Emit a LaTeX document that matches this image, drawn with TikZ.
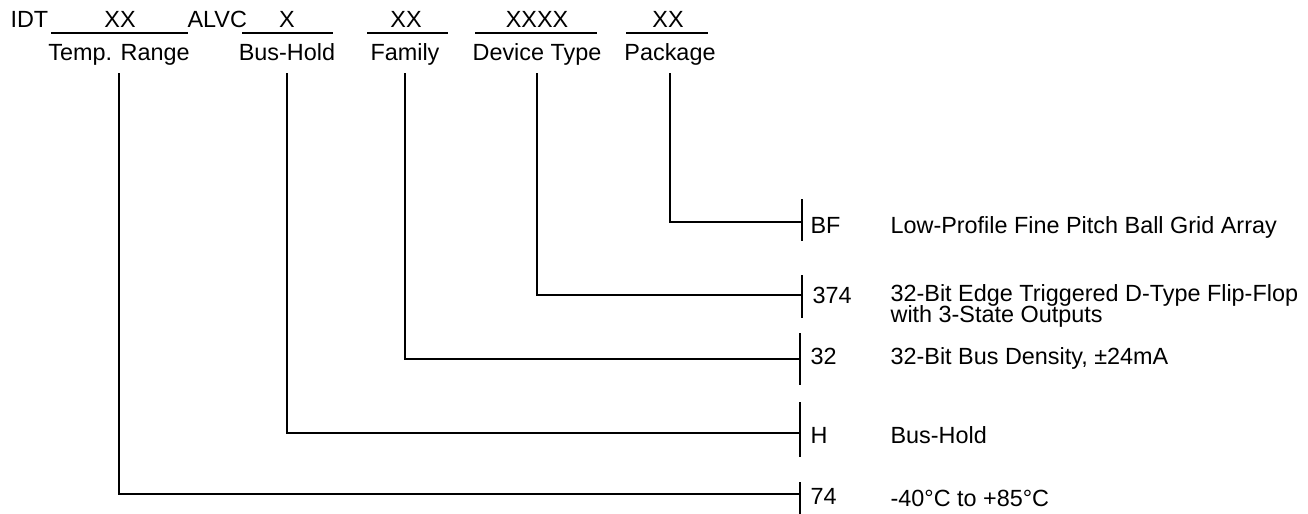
\documentclass[tikz,border=0pt]{standalone}
\usepackage{fontspec}
\setmainfont{Liberation Sans}
\begin{document}
\begin{tikzpicture}[x=0.5pt,y=-0.5pt,line width=0.6pt,
  every node/.style={inner sep=0pt,anchor=base,font=\fontsize{11.7}{14}\selectfont},
  blank/.style={line width=0.7pt},
  codebar/.style={line width=0.6pt}]
\useasboundingbox (0,0) rectangle (1308,514);

% part number fields
\node[anchor=base west] (idt) at (10,27) {IDT};
\node (tempx) at (120,27) {XX};
\node[anchor=base west] (alvc) at (187,27) {ALVC};
\node (holdx) at (287,27) {X};
\node (famx) at (406,27) {XX};
\node (devx) at (537,27) {XXXX};
\node (pkgx) at (668,27) {XX};

\draw [blank] (51,33) -- (188,33);
\draw [blank] (242,33) -- (333,33);
\draw [blank] (367,33) -- (448,33);
\draw [blank] (475,33) -- (597,33);
\draw [blank] (626,33) -- (708,33);

\node (temp) at (119,61) {Temp. Range};
\node (hold) at (287,61) {Bus-Hold};
\node (fam) at (405,61) {Family};
\node (dev) at (537,61) {Device Type};
\node (pkg) at (670,61) {Package};

% code bars
\coordinate (bf) at (802,222);
\coordinate (c374) at (802,295);
\coordinate (c32) at (800,359);
\coordinate (ch) at (800,433);
\coordinate (c74) at (800,494);

\draw [codebar] (802,199) -- (802,241);
\draw [codebar] (802,275) -- (802,318);
\draw [codebar] (800,333) -- (800,385);
\draw [codebar] (800,402) -- (800,457);
\draw [codebar] (800,482) -- (800,514);

\draw (670,73) |- (bf);
\draw (537,73) |- (c374);
\draw (405,73) |- (c32);
\draw (287,73) |- (ch);
\draw (119,73) |- (c74);

% codes
\node[anchor=base west] (bfcode) at (810,233) {BF};
\node[anchor=base west] (code374) at (812,303) {374};
\node[anchor=base west] (code32) at (810,364) {32};
\node[anchor=base west] (hcode) at (810,443) {H};
\node[anchor=base west] (code74) at (810,504) {74};

% descriptions
\node[anchor=base west] (bfdesc) at (890,233) {Low-Profile Fine Pitch Ball Grid Array};
\node[anchor=base west] (desc374) at (890,301) {32-Bit Edge Triggered D-Type Flip-Flop};
\node[anchor=base west] (desc374b) at (890,322) {with 3-State Outputs};
\node[anchor=base west] (desc32) at (890,364) {32-Bit Bus Density, ±24mA};
\node[anchor=base west] (hdesc) at (890,443) {Bus-Hold};
\node[anchor=base west] (desc74) at (890,506) {-40°C to +85°C};
\end{tikzpicture}
\end{document}
